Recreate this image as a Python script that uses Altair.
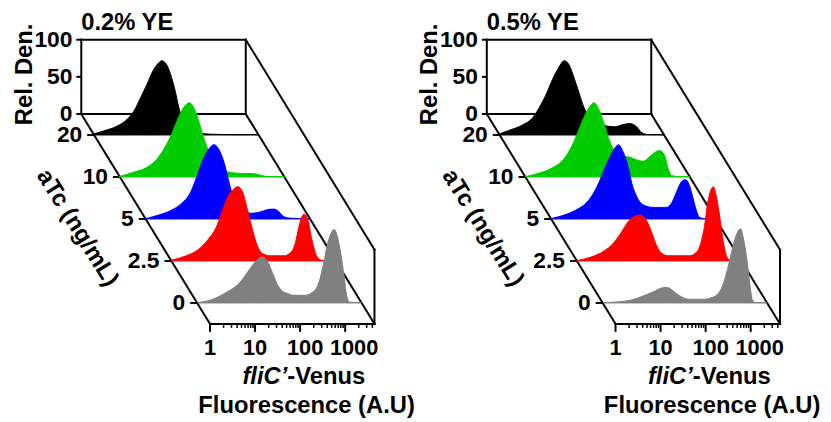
import math
import altair as alt
import pandas as pd

# ---------------- values ----------------
# x: log10 of fliC'-Venus fluorescence (A.U.), y: relative density (% of mode)
panel_titles = ["0.2% YE", "0.5% YE"]
atc_labels = ["20", "10", "5", "2.5", "0"]          # back row -> front row
row_colors = ["#000000", "#00CC00", "#0000FF", "#FF0000", "#808080"]
x_tick_labels = ["1", "10", "100", "1000"]
x_tick_log = [0, 1, 2, 3]
y_tick_values = [0, 50, 100]

# ---- 0.2% YE ----
ye02_atc20_logf = [-0.05, 0.22, 0.51, 0.73, 0.88, 1.03, 1.17, 1.32, 1.43, 1.50, 1.61, 1.72, 1.80, 1.87, 1.98, 2.09, 2.30, 2.60, 3.00, 3.65]
ye02_atc20_dens = [0.5, 5.6, 12, 21, 32, 50, 68, 88, 97, 100, 94.5, 77, 59, 39, 18, 8, 3, 1, 0.5, 0.5]
ye02_atc10_logf = [-0.02, 0.31, 0.60, 0.82, 1.00, 1.15, 1.30, 1.41, 1.54, 1.66, 1.77, 1.88, 2.00, 2.13, 2.29, 2.43, 2.62, 2.98, 3.20, 3.40, 3.65]
ye02_atc10_dens = [0.5, 6.5, 13, 24, 40, 58, 80, 93, 100, 91, 71, 49, 30, 15, 8, 6.5, 5, 4.4, 1.2, 0.4, 0.4]
ye02_atc5_logf = [0.0, 0.29, 0.58, 0.80, 0.98, 1.13, 1.27, 1.40, 1.52, 1.64, 1.75, 1.84, 1.93, 2.04, 2.18, 2.34, 2.56, 2.74, 2.85, 2.96, 3.07, 3.22, 3.65]
ye02_atc5_dens = [0.5, 5.3, 12, 21, 34, 56, 79, 94, 100, 92, 74, 52, 32, 18, 11, 7.6, 9.7, 13, 13.3, 9.7, 3, 1, 0.4]
ye02_atc25_logf = [0.0, 0.30, 0.59, 0.81, 1.00, 1.14, 1.25, 1.36, 1.47, 1.58, 1.69, 1.80, 1.91, 2.02, 2.20, 2.50, 2.64, 2.75, 2.83, 2.90, 2.95, 3.03, 3.12, 3.23, 3.34, 3.65]
ye02_atc25_dens = [1, 6.3, 15, 28.5, 46, 69, 86, 95, 100, 93, 68.5, 42, 20, 10, 7, 7, 11, 24, 46, 60, 63, 55, 28.5, 6, 1, 0.4]
ye02_atc0_logf = [0.02, 0.35, 0.64, 0.94, 1.16, 1.30, 1.45, 1.56, 1.67, 1.78, 1.89, 2.04, 2.11, 2.40, 2.55, 2.70, 2.81, 2.90, 2.99, 3.04, 3.13, 3.21, 3.27, 3.32, 3.39, 3.65]
ye02_atc0_dens = [0.5, 5, 14, 27, 45, 56, 62, 56, 41, 25, 16, 12, 10.4, 10.4, 14, 27, 54, 81, 96, 99, 85, 58, 32, 9.5, 1, 0.4]

# ---- 0.5% YE ----
ye05_atc20_logf = [-0.05, 0.22, 0.51, 0.73, 0.88, 1.03, 1.17, 1.32, 1.43, 1.54, 1.65, 1.76, 1.87, 2.02, 2.20, 2.38, 2.56, 2.71, 2.89, 3.04, 3.15, 3.30, 3.65]
ye05_atc20_dens = [0.5, 6.5, 13.6, 23, 37, 54.5, 74.5, 92, 100, 94.5, 77, 57, 37, 22, 16, 12, 11, 13.6, 15.3, 11, 3.3, 0.5, 0.4]
ye05_atc10_logf = [0.0, 0.31, 0.60, 0.82, 1.00, 1.15, 1.26, 1.41, 1.52, 1.63, 1.74, 1.85, 1.96, 2.10, 2.32, 2.47, 2.62, 2.76, 2.91, 2.98, 3.09, 3.16, 3.24, 3.42, 3.65]
ye05_atc10_dens = [0.5, 5.2, 12.4, 22, 38, 58, 75, 93, 100, 91, 73, 51, 37, 29, 26.5, 23, 21, 27.5, 34.5, 35.5, 29, 13, 2, 0.4, 0.4]
ye05_atc5_logf = [0.0, 0.29, 0.58, 0.80, 0.98, 1.13, 1.27, 1.40, 1.49, 1.60, 1.71, 1.79, 1.90, 2.04, 2.26, 2.55, 2.67, 2.78, 2.89, 2.98, 3.07, 3.14, 3.22, 3.29, 3.40, 3.65]
ye05_atc5_dens = [0.5, 5.3, 13, 23, 39, 59, 79, 94, 100, 90, 70, 48, 30, 19, 15.6, 15.6, 21, 36, 50, 53, 45, 30, 12, 2.3, 0.4, 0.4]
ye05_atc25_logf = [0.0, 0.30, 0.59, 0.81, 1.00, 1.14, 1.29, 1.41, 1.54, 1.65, 1.76, 1.87, 2.02, 2.50, 2.64, 2.75, 2.83, 2.90, 2.97, 3.03, 3.08, 3.16, 3.23, 3.30, 3.37, 3.65]
ye05_atc25_dens = [0.5, 5, 13, 24, 40, 53, 60.5, 62, 55, 40, 22, 11, 7, 7, 11, 24, 46, 77, 95, 100, 91, 64, 33, 11, 2, 0.4]
ye05_atc0_logf = [0.02, 0.35, 0.64, 0.94, 1.16, 1.30, 1.41, 1.52, 1.63, 1.78, 1.93, 2.26, 2.40, 2.55, 2.66, 2.77, 2.84, 2.92, 2.99, 3.06, 3.13, 3.21, 3.27, 3.32, 3.39, 3.65]
ye05_atc0_dens = [0.5, 1.5, 4, 10.4, 16, 20, 21, 18.4, 13, 7.3, 5, 5, 6.8, 11.7, 23, 45, 63, 83, 95, 100, 85, 54, 23, 5, 0.5, 0.4]

curves = [
    [(ye02_atc20_logf, ye02_atc20_dens), (ye02_atc10_logf, ye02_atc10_dens), (ye02_atc5_logf, ye02_atc5_dens),
     (ye02_atc25_logf, ye02_atc25_dens), (ye02_atc0_logf, ye02_atc0_dens)],
    [(ye05_atc20_logf, ye05_atc20_dens), (ye05_atc10_logf, ye05_atc10_dens), (ye05_atc5_logf, ye05_atc5_dens),
     (ye05_atc25_logf, ye05_atc25_dens), (ye05_atc0_logf, ye05_atc0_dens)],
]

# ---------------- layout of the oblique (pseudo-3D) projection ----------------
X_SPAN = 3.65      # decades on the fluorescence axis
DEPTH_DX = 2.857   # back -> front shift, in decades
DEPTH_DY = 282.7   # back -> front drop, in density units
PANEL_DX = 9.0     # shift of the second panel, in decades
PX_X = 45.5        # pixels per decade
PX_Y = 0.75        # pixels per density unit
N_ROWS = len(atc_labels)
X_LABEL_NUDGE_PX = [0, 0, 5, 9]   # the reference sets its long labels a little right of the ticks

W = round((PANEL_DX + X_SPAN + DEPTH_DX) * PX_X)
H = round((100 + DEPTH_DY) * PX_Y)
xsc = alt.Scale(domain=[0, W / PX_X], nice=False, zero=False)
ysc = alt.Scale(domain=[100 - H / PX_Y, 100], nice=False, zero=False)


def depth(i):
    return (i + 0.5) / N_ROWS


# curve table
rec = []
for p in range(2):
    for i in range(N_ROWS):
        d = depth(i)
        for L, h in zip(*curves[p][i]):
            y0 = -d * DEPTH_DY
            rec.append(dict(panel=p, row=i, X=p * PANEL_DX + d * DEPTH_DX + L, Y=y0 + h, Y0=y0))
curve_df = pd.DataFrame(rec)

# box edges and ticks
box, tmaj, tmin = [], [], []
for p in range(2):
    ox = p * PANEL_DX
    fx, fy = DEPTH_DX, -DEPTH_DY
    r = X_SPAN
    box += [
        (ox, 100, ox + r, 100), (ox, 0, ox, 100), (ox + r, 0, ox + r, 100), (ox, 0, ox + r, 0),
        (ox, 0, ox + fx, fy), (ox + r, 0, ox + r + fx, fy), (ox + r, 100, ox + r + fx, 100 + fy),
        (ox + fx, fy, ox + r + fx, fy), (ox + r + fx, fy, ox + r + fx, 100 + fy),
    ]
    for v in y_tick_values:
        tmaj.append((ox - 5 / PX_X, v, ox, v))
    for i in range(N_ROWS):
        d = depth(i)
        tmaj.append((ox + d * fx - 7 / PX_X, d * fy, ox + d * fx, d * fy))
    for L in x_tick_log:
        tmaj.append((ox + fx + L, fy, ox + fx + L, fy - 8 / PX_Y))
    for dec in range(4):
        for k in range(2, 10):
            L = dec + math.log10(k)
            if L <= X_SPAN:
                tmin.append((ox + fx + L, fy, ox + fx + L, fy - 4 / PX_Y))


def seg_df(lst):
    return pd.DataFrame(lst, columns=["x", "y", "x2", "y2"])


def rules(df, w, cap="butt"):
    return alt.Chart(df).mark_rule(color="black", strokeWidth=w, strokeCap=cap).encode(
        x=alt.X("x:Q", scale=xsc, axis=None), y=alt.Y("y:Q", scale=ysc, axis=None),
        x2="x2:Q", y2="y2:Q")


layers = [rules(seg_df(box), 2, "square"), rules(seg_df(tmaj), 2), rules(seg_df(tmin), 1.5)]

for i in range(N_ROWS):
    layers.append(
        alt.Chart(curve_df).transform_filter(alt.datum.row == i).mark_area(
            color=row_colors[i], stroke=row_colors[i], strokeWidth=1, interpolate="monotone"
        ).encode(
            x=alt.X("X:Q", scale=xsc, axis=None), y=alt.Y("Y:Q", scale=ysc, axis=None),
            y2="Y0:Q", detail="panel:N")
    )

FONT = "Liberation Sans"


def texts(rows, fs=24, **kw):
    df = pd.DataFrame(rows, columns=["x", "y", "t"])
    base = dict(font=FONT, fontSize=fs, fontWeight="bold", color="black")
    base.update(kw)
    return alt.Chart(df).mark_text(**base).encode(
        x=alt.X("x:Q", scale=xsc, axis=None), y=alt.Y("y:Q", scale=ysc, axis=None), text="t:N")


ytl, rowl, xtl, ttl, ylab, zlab, xlab1, xlab2, xlab3 = [], [], [], [], [], [], [], [], []
for p in range(2):
    ox = p * PANEL_DX
    for v in y_tick_values:
        ytl.append((ox, v, str(v)))
    for i, lab in enumerate(atc_labels):
        d = depth(i)
        rowl.append((ox + d * DEPTH_DX, -d * DEPTH_DY, lab))
    for L, lab, nud in zip(x_tick_log, x_tick_labels, X_LABEL_NUDGE_PX):
        xtl.append((ox + DEPTH_DX + L + nud / PX_X, -DEPTH_DY, lab))
    ttl.append((ox, 100, panel_titles[p]))
    ylab.append((ox - 50 / PX_X, 100 - 35 / PX_Y, "Rel. Den."))
    zlab.append((ox - 4 / PX_X, 100 - 190 / PX_Y, "aTc (ng/mL)"))
    xlab1.append((ox + 208 / PX_X, 100 - 348 / PX_Y, "fliC\u2019"))
    xlab2.append((ox + 208 / PX_X, 100 - 348 / PX_Y, "-Venus"))
    xlab3.append((ox + 227.5 / PX_X, 100 - 377 / PX_Y, "Fluorescence (A.U)"))

layers += [
    texts(ytl, fs=23, align="right", baseline="middle", dx=-9),
    texts(rowl, fs=23, align="right", baseline="middle", dx=-12),
    texts(xtl, fs=22, align="center", baseline="alphabetic", dy=31),
    texts(ttl, align="left", baseline="alphabetic", dy=-10),
    texts(ylab, align="center", baseline="alphabetic", angle=270),
    texts(zlab, align="center", baseline="middle", angle=58),
    texts(xlab1, align="right", baseline="alphabetic", fontStyle="italic"),
    texts(xlab2, align="left", baseline="alphabetic"),
    texts(xlab3, align="center", baseline="alphabetic"),
]

chart = alt.layer(*layers).properties(
    width=W, height=H,
    autosize=alt.AutoSizeParams(type="none"),
    padding={"left": 74, "top": 30, "right": 823 - 74 - W, "bottom": 414 - 30 - H},
).configure_view(stroke=None)

chart.save("out.html", embed_options={"renderer": "svg", "actions": False})
